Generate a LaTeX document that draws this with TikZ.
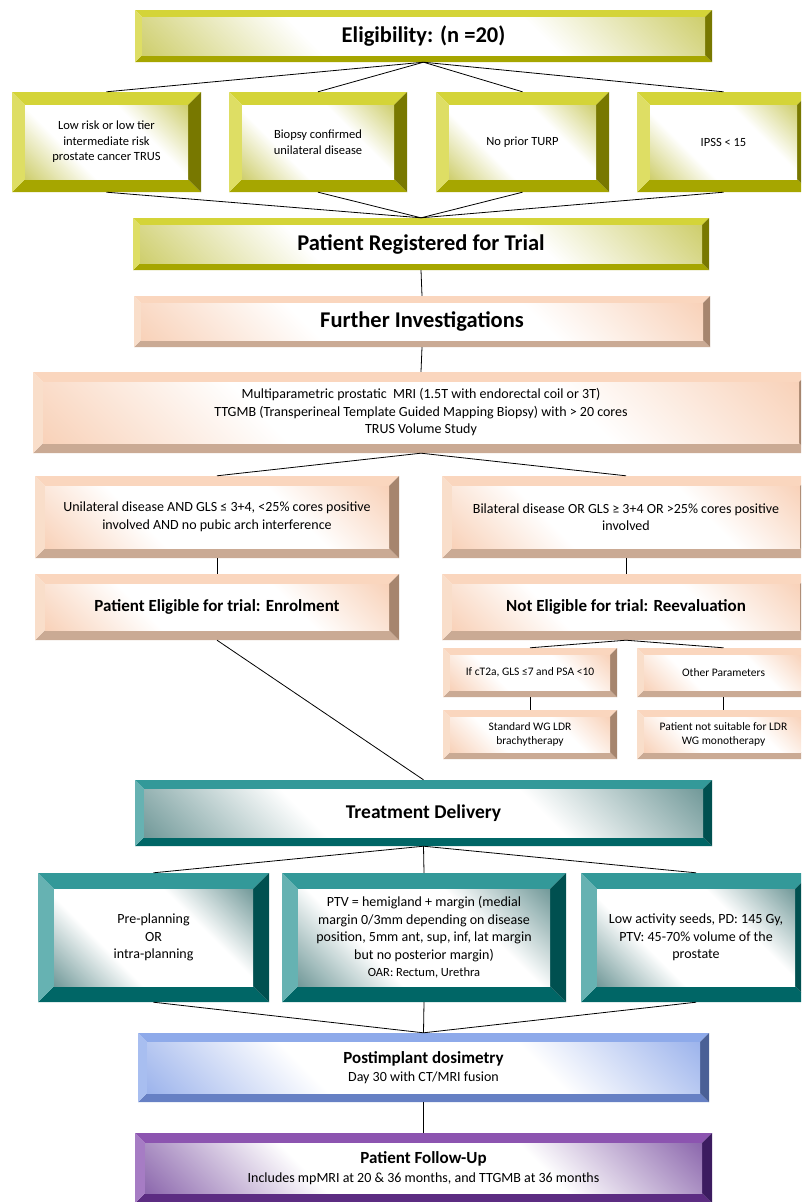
\documentclass[tikz,border=0pt]{standalone}
\usepackage{fontspec}
\setmainfont{Carlito}
\definecolor{oltop}{RGB}{212,212,56}
\definecolor{olleft}{RGB}{222,222,100}
\definecolor{olright}{RGB}{120,120,0}
\definecolor{olbot}{RGB}{166,166,0}
\definecolor{oltint}{RGB}{196,196,78}
\definecolor{petop}{RGB}{250,214,190}
\definecolor{peleft}{RGB}{249,222,202}
\definecolor{peright}{RGB}{166,133,110}
\definecolor{pebot}{RGB}{202,170,148}
\definecolor{petint}{RGB}{247,200,170}
\definecolor{tetop}{RGB}{51,153,153}
\definecolor{teleft}{RGB}{102,178,178}
\definecolor{teright}{RGB}{0,80,80}
\definecolor{tebot}{RGB}{0,102,102}
\definecolor{tetint}{RGB}{84,132,132}
\definecolor{bltop}{RGB}{142,170,234}
\definecolor{blleft}{RGB}{168,190,240}
\definecolor{blright}{RGB}{74,96,150}
\definecolor{blbot}{RGB}{102,128,196}
\definecolor{bltint}{RGB}{136,164,232}
\definecolor{putop}{RGB}{140,84,176}
\definecolor{puleft}{RGB}{166,124,196}
\definecolor{puright}{RGB}{60,28,96}
\definecolor{pubot}{RGB}{92,44,130}
\definecolor{putint}{RGB}{116,72,156}
\pgfdeclareverticalshading{faceol}{100bp}{color(0bp)=(oltint); color(10bp)=(oltint); color(36bp)=(white); color(64bp)=(white); color(90bp)=(oltint); color(100bp)=(oltint)}
\pgfdeclareverticalshading{facepe}{100bp}{color(0bp)=(petint); color(10bp)=(petint); color(36bp)=(white); color(64bp)=(white); color(90bp)=(petint); color(100bp)=(petint)}
\pgfdeclareverticalshading{facete}{100bp}{color(0bp)=(tetint); color(10bp)=(tetint); color(36bp)=(white); color(64bp)=(white); color(90bp)=(tetint); color(100bp)=(tetint)}
\pgfdeclareverticalshading{facebl}{100bp}{color(0bp)=(bltint); color(10bp)=(bltint); color(36bp)=(white); color(64bp)=(white); color(90bp)=(bltint); color(100bp)=(bltint)}
\pgfdeclareverticalshading{facepu}{100bp}{color(0bp)=(putint); color(10bp)=(putint); color(36bp)=(white); color(64bp)=(white); color(90bp)=(putint); color(100bp)=(putint)}
\tikzset{
  boxnode/.style={rectangle, inner sep=0pt, align=center, text=black},
  conn/.style={draw=black, line width=0.8pt},
}
% name, x1, y1, x2, y2, bevel, scheme, font, text
\newcommand\bvbox[9]{%
  \pgfmathsetmacro\bxa{#2+#6}\pgfmathsetmacro\bya{#3+#6}%
  \pgfmathsetmacro\bxb{#4-#6}\pgfmathsetmacro\byb{#5-#6}%
  \pgfmathsetmacro\bw{#4-#2}\pgfmathsetmacro\bh{#5-#3}%
  \pgfmathsetmacro\bcx{(#2+#4)/2}\pgfmathsetmacro\bcy{(#3+#5)/2}%
  \fill[#7top] (#2,#3) -- (#4,#3) -- (\bxb,\bya) -- (\bxa,\bya) -- cycle;
  \fill[#7bot] (#2,#5) -- (#4,#5) -- (\bxb,\byb) -- (\bxa,\byb) -- cycle;
  \fill[#7left] (#2,#3) -- (\bxa,\bya) -- (\bxa,\byb) -- (#2,#5) -- cycle;
  \fill[#7right] (#4,#3) -- (\bxb,\bya) -- (\bxb,\byb) -- (#4,#5) -- cycle;
  \shade[shading=face#7, shading angle=-45] (\bxa,\bya) rectangle (\bxb,\byb);
  \node[boxnode, font=#8, minimum width=\bw pt, minimum height=\bh pt] (#1) at (\bcx,\bcy) {#9};
}
\newcommand\ftHead{\fontsize{22.5}{27}\selectfont\bfseries}
\newcommand\ftSub{\fontsize{17}{20}\selectfont\bfseries}
\newcommand\ftMid{\fontsize{19.5}{23}\selectfont\bfseries}
\newcommand\ftCrit{\fontsize{12.5}{15.5}\selectfont}
\newcommand\ftBody{\fontsize{14}{17.5}\selectfont}
\newcommand\ftSmall{\fontsize{11.5}{14}\selectfont}
\begin{document}
\begin{tikzpicture}[x=1pt, y=-1pt]
\useasboundingbox (0,0) rectangle (801,1202);
\fill[white] (0,0) rectangle (801,1202);
\clip (0,0) rectangle (801,1202);
% olive
\bvbox{elig}{135}{10}{712}{62}{7}{ol}{\ftHead}{Eligibility: (n =20)}
\bvbox{crA}{12}{92}{201}{192}{13}{ol}{\ftCrit}{Low risk or low tier\\intermediate risk\\prostate cancer TRUS}
\bvbox{crB}{229}{92}{407}{192}{13}{ol}{\ftCrit}{Biopsy confirmed\\unilateral disease}
\bvbox{crC}{436}{92}{609}{192}{13}{ol}{\ftCrit}{No prior TURP}
\bvbox{crD}{637}{92}{810}{192}{13}{ol}{\ftCrit}{IPSS < 15}
\bvbox{reg}{133}{218}{709}{270}{7}{ol}{\ftHead}{Patient Registered for Trial}
% peach
\bvbox{fi}{134}{296}{710}{347}{7}{pe}{\ftHead}{Further Investigations}
\bvbox{multi}{33}{372}{809}{453}{10}{pe}{\ftBody}{Multiparametric prostatic\ \ MRI (1.5T with endorectal coil or 3T)\\TTGMB (Transperineal Template Guided Mapping Biopsy) with > 20 cores\\TRUS Volume Study}
\bvbox{uni}{35}{476}{399}{558}{10}{pe}{\ftBody}{Unilateral disease AND GLS ≤ 3+4, <25\% cores positive\\involved AND no pubic arch interference}
\bvbox{bil}{442}{476}{810}{558}{10}{pe}{\ftBody}{Bilateral disease OR GLS ≥ 3+4 OR >25\% cores positive\\involved}
\bvbox{pel}{35}{574}{399}{640}{10}{pe}{\ftSub}{Patient Eligible for trial: Enrolment}
\bvbox{nel}{442}{574}{810}{640}{10}{pe}{\ftSub}{Not Eligible for trial: Reevaluation}
\bvbox{ct}{443}{648}{617}{697}{7}{pe}{\ftSmall}{If cT2a, GLS ≤7 and PSA <10}
\bvbox{op}{637}{648}{810}{697}{7}{pe}{\ftSmall}{Other Parameters}
\bvbox{std}{443}{710}{617}{759}{7}{pe}{\ftSmall}{Standard WG LDR\\brachytherapy}
\bvbox{nsu}{637}{710}{810}{759}{7}{pe}{\ftSmall}{Patient not suitable for LDR\\WG monotherapy}
% teal
\bvbox{td}{135}{780}{712}{846}{9}{te}{\ftMid}{Treatment Delivery}
\bvbox{pp}{38}{873}{269}{1002}{16}{te}{\ftBody}{Pre-planning\\OR\\intra-planning}
\bvbox{ptv}{282}{873}{566}{1002}{16}{te}{\ftBody}{PTV = hemigland + margin (medial\\margin 0/3mm depending on disease\\position, 5mm ant, sup, inf, lat margin\\but no posterior margin)\\{\fontsize{12.5}{15}\selectfont OAR: Rectum, Urethra}}
\bvbox{la}{581}{873}{811}{1002}{16}{te}{\ftBody}{Low activity seeds, PD: 145 Gy,\\PTV: 45-70\% volume of the\\prostate}
% blue
\bvbox{pi}{138}{1033}{709}{1102}{9}{bl}{\fontsize{14}{18}\selectfont}{{\ftSub Postimplant dosimetry}\\Day 30 with CT/MRI fusion}
% purple
\bvbox{fu}{135}{1133}{712}{1203}{10}{pu}{\fontsize{14}{19}\selectfont}{{\ftSub Patient Follow-Up}\\Includes mpMRI at 20 \& 36 months, and TTGMB at 36 months}
% connectors
\foreach \n in {crA,crB,crC,crD} {
  \draw[conn] (elig.south) -- (\n.north);
  \draw[conn] (\n.south) -- (reg.north);
}
\draw[conn] (reg.south) -- (fi.north);
\draw[conn] (fi.south) -- (multi.north);
\draw[conn] (multi.south) -- (uni.north);
\draw[conn] (multi.south) -- (bil.north);
\draw[conn] (uni.south) -- (pel.north);
\draw[conn] (bil.south) -- (nel.north);
\draw[conn] (nel.south) -- (ct.north);
\draw[conn] (nel.south) -- (op.north);
\draw[conn] (ct.south) -- (std.north);
\draw[conn] (op.south) -- (nsu.north);
\draw[conn] (pel.south) -- (td.north);
\foreach \n in {pp,ptv,la} {
  \draw[conn] (td.south) -- (\n.north);
  \draw[conn] (\n.south) -- (pi.north);
}
\draw[conn] (pi.south) -- (fu.north);
\end{tikzpicture}
\end{document}
